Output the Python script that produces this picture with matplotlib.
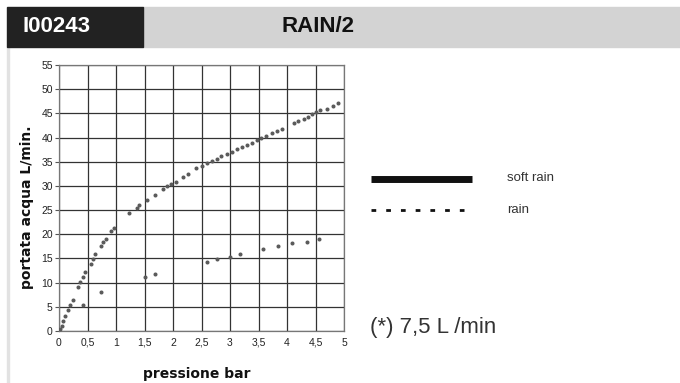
import numpy as np
import matplotlib.pyplot as plt
from matplotlib.patches import Rectangle
from matplotlib.lines import Line2D
from matplotlib.ticker import FuncFormatter

# serie superiore (soft rain)
soft_x = [0.02, 0.05, 0.07, 0.11, 0.15, 0.19, 0.24, 0.33, 0.37, 0.42, 0.46,
          0.56, 0.60, 0.64, 0.73, 0.78, 0.82, 0.91, 0.96, 1.23, 1.36, 1.41,
          1.55, 1.68, 1.82, 1.90, 1.97, 2.05, 2.18, 2.27, 2.40, 2.50, 2.59,
          2.68, 2.77, 2.85, 2.94, 3.03, 3.12, 3.21, 3.29, 3.38, 3.47, 3.54,
          3.64, 3.73, 3.82, 3.91, 4.12, 4.20, 4.29, 4.37, 4.44, 4.50, 4.58,
          4.71, 4.80, 4.89]
soft_y = [0.5, 1.0, 2.1, 3.2, 4.3, 5.3, 6.4, 9.0, 10.1, 11.2, 12.3,
          13.8, 14.9, 15.9, 17.5, 18.5, 19.1, 20.7, 21.2, 24.4, 25.5, 26.0,
          27.0, 28.1, 29.3, 30.0, 30.4, 30.8, 31.9, 32.4, 33.6, 34.1, 34.8,
          35.2, 35.6, 36.1, 36.5, 37.1, 37.6, 38.0, 38.4, 38.9, 39.4, 39.9,
          40.3, 40.9, 41.4, 41.8, 43.0, 43.4, 43.9, 44.3, 44.8, 45.2, 45.6,
          46.0, 46.6, 47.1]

# serie inferiore (rain)
rain_x = [0.42, 0.74, 1.50, 1.69, 2.59, 2.77, 3.00, 3.18, 3.58, 3.85, 4.08, 4.35, 4.57]
rain_y = [5.3, 8.0, 11.2, 11.7, 14.3, 14.8, 15.4, 15.9, 17.0, 17.5, 18.1, 18.5, 19.1]

x_ticks = np.arange(0, 5.01, 0.5)
y_ticks = np.arange(0, 56, 5)

W, H = 680, 383
fig = plt.figure(figsize=(W / 100, H / 100), dpi=100)
plt.rcParams['font.family'] = ['Liberation Sans', 'DejaVu Sans']

# testata
fig.patches.append(Rectangle((143 / W, 1 - 47 / H), (W - 143) / W, 40 / H,
                             transform=fig.transFigure, color='#d3d3d3', zorder=0))
fig.patches.append(Rectangle((7 / W, 1 - 47 / H), 136 / W, 40 / H,
                             transform=fig.transFigure, color='#222222', zorder=1))
fig.patches.append(Rectangle((7 / W, 0), 2 / W, 1 - 47 / H,
                             transform=fig.transFigure, color='#e2e2e2', zorder=0))
fig.text(23 / W, 1 - 27 / H, 'I00243', color='white', fontsize=16, fontweight='bold',
         ha='left', va='center')
fig.text(318 / W, 1 - 27 / H, 'RAIN/2', color='#111111', fontsize=16, fontweight='bold',
         ha='center', va='center')

ax = fig.add_axes([59 / W, 1 - 331 / H, 285 / W, 266 / H])
ax.plot(soft_x, soft_y, linestyle='none', marker='o', markersize=1.9, color='#5a5a5a', zorder=3)
ax.plot(rain_x, rain_y, linestyle='none', marker='o', markersize=1.9, color='#5a5a5a', zorder=3)
ax.set_xlim(0, 5)
ax.set_ylim(0, 55)
ax.set_xticks(x_ticks)
ax.set_yticks(y_ticks)
ax.xaxis.set_major_formatter(FuncFormatter(lambda v, p: ('%g' % v).replace('.', ',')))
ax.grid(True, color='#333333', linewidth=0.9)
ax.set_axisbelow(True)
for s in ax.spines.values():
    s.set_color('#777777')
    s.set_linewidth(0.9)
ax.tick_params(axis='x', length=0, pad=5, labelsize=7.5, colors='#222222')
ax.tick_params(axis='y', length=3, width=0.8, color='#555555', pad=1.5, labelsize=7.5,
               labelcolor='#222222')

fig.text(27 / W, 1 - 207 / H, 'portata acqua L/min.', rotation=90, fontsize=10,
         fontweight='heavy', family='DejaVu Sans', ha='center', va='center', color='#111111')
fig.text(197 / W, 1 - 374 / H, 'pressione bar', fontsize=10, fontweight='heavy',
         family='DejaVu Sans', ha='center', va='center', color='#111111')

# legenda
fig.lines.append(Line2D([371 / W, 472 / W], [1 - 179 / H, 1 - 179 / H],
                        transform=fig.transFigure, color='#111111', linewidth=5,
                        solid_capstyle='butt'))
fig.lines.append(Line2D([371 / W, 464 / W], [1 - 210 / H, 1 - 210 / H],
                        transform=fig.transFigure, color='#111111', linewidth=2,
                        linestyle=(0, (1.7, 3.6)), dash_capstyle='butt'))
fig.text(507 / W, 1 - 178 / H, 'soft rain', fontsize=9.5, color='#333333', va='center')
fig.text(507 / W, 1 - 210 / H, 'rain', fontsize=9.5, color='#333333', va='center')
fig.text(370 / W, 1 - 327 / H, '(*) 7,5 L /min', fontsize=16, color='#333333', va='center')

fig.savefig('out.png', dpi=100)
